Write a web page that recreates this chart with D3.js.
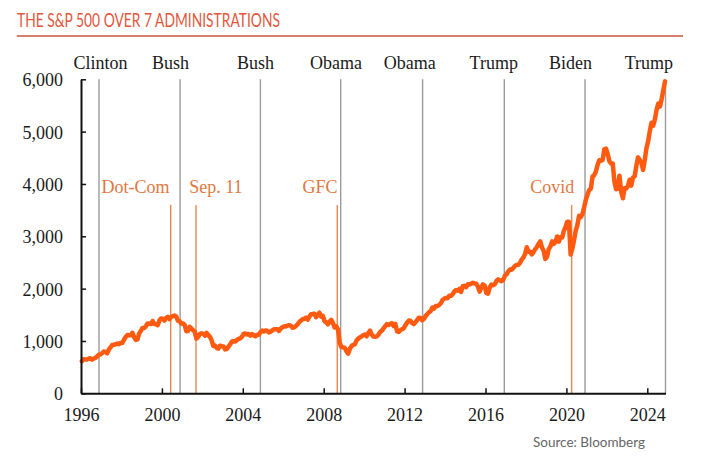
<!DOCTYPE html>
<html>
<head>
<meta charset="utf-8">
<script src="https://cdn.jsdelivr.net/npm/d3@7"></script>
<style>
  html, body { margin: 0; padding: 0; background: #fff; }
  svg { display: block; }
</style>
</head>
<body>
<svg id="chart" width="707" height="458"></svg>
<script>
// ---- DATA ----
const titleText = "THE S&P 500 OVER 7 ADMINISTRATIONS";
const sourceText = "Source: Bloomberg";
const startYear = 1996;
// S&P 500 monthly level, Jan 1996 ... Nov 2024 (one row per year)
const sp500 = [
  [614,650,647,647,661,669,644,663,675,701,736,743],
  [766,798,792,764,833,876,925,928,937,951,939,962],
  [963,1024,1077,1112,1108,1108,1157,1075,1021,1032,1144,1190],
  [1249,1247,1282,1335,1332,1323,1381,1327,1318,1300,1391,1429],
  [1426,1389,1442,1461,1418,1462,1473,1485,1468,1390,1378,1331],
  [1336,1306,1186,1190,1270,1239,1204,1179,1045,1077,1130,1145],
  [1140,1101,1154,1112,1079,1014,904,913,868,855,910,899],
  [896,838,847,890,936,988,993,990,1019,1039,1050,1081],
  [1133,1143,1124,1133,1102,1133,1106,1089,1118,1118,1169,1199],
  [1181,1200,1195,1164,1178,1202,1222,1224,1226,1192,1237,1262],
  [1279,1277,1294,1302,1290,1253,1260,1287,1318,1363,1389,1416],
  [1424,1445,1407,1464,1511,1514,1521,1455,1497,1540,1463,1479],
  [1379,1355,1317,1370,1403,1341,1257,1281,1217,969,883,878],
  [866,805,757,848,902,926,936,1010,1045,1068,1088,1110],
  [1124,1089,1152,1197,1125,1083,1080,1087,1122,1172,1199,1242],
  [1283,1321,1304,1332,1338,1287,1325,1185,1174,1207,1226,1243],
  [1301,1352,1389,1386,1341,1323,1360,1403,1443,1438,1395,1422],
  [1480,1512,1551,1571,1640,1619,1669,1670,1687,1720,1784,1808],
  [1822,1817,1864,1864,1890,1947,1973,1962,1993,1937,2045,2054],
  [2028,2082,2080,2095,2112,2099,2094,2040,1944,2025,2081,2054],
  [1919,1904,2022,2076,2066,2084,2149,2177,2158,2143,2165,2247],
  [2275,2330,2367,2359,2395,2434,2454,2456,2493,2557,2594,2664],
  [2790,2705,2703,2654,2701,2754,2794,2858,2902,2785,2723,2567],
  [2607,2755,2804,2904,2855,2890,2996,2898,2982,2978,3105,3177],
  [3278,3277,2652,2762,2920,3105,3208,3392,3366,3419,3549,3695],
  [3794,3883,3911,4141,4168,4238,4364,4454,4446,4461,4667,4675],
  [4574,4436,4391,4391,4040,3899,3912,4159,3851,3726,3917,3912],
  [3961,4080,3969,4121,4146,4345,4508,4457,4409,4269,4460,4685],
  [4816,5012,5171,5112,5235,5415,5538,5478,5621,5792,5960]
];
// administrations: name, date of the divider line, label centre
const adminNames = ["Clinton","Bush","Bush","Obama","Obama","Trump","Biden","Trump"];
const adminLineYears = [1996.89, 2000.90, 2004.87, 2008.84, 2012.89, 2016.93, 2020.92, 2024.90];
const adminLabelYears = [1996.96, 2000.43, 2004.63, 2008.61, 2012.25, 2016.41, 2020.20, 2024.08];
// events
const eventNames = ["Dot-Com","Sep. 11","GFC","Covid"];
const eventYears = [2000.435, 2001.686, 2008.67, 2020.26];
const eventLabelYears = [1998.69, 2002.67, 2007.82, 2019.30];
const eventTopValue = 3600;
const xTicks = [1996, 2000, 2004, 2008, 2012, 2016, 2020, 2024];
const yTicks = [0, 1000, 2000, 3000, 4000, 5000, 6000];
const xDomain = [1996, 2024.9];
const yDomain = [0, 6000];

// ---- CHART ----
const svg = d3.select("#chart");
const serif = "'Liberation Serif', 'Times New Roman', serif";
const sans = "Lato, 'Open Sans', sans-serif";

const x = d3.scaleLinear().domain(xDomain).range([81, 665.5]);
const y = d3.scaleLinear().domain(yDomain).range([393.3, 79.3]);

const series = [];
sp500.forEach((row, yi) => row.forEach((v, mi) => series.push({ t: startYear + yi + (mi + 0.5) / 12, v })));

// title
svg.append("text")
  .attr("x", 17).attr("y", 26.7)
  .attr("fill", "#E2573B")
  .attr("font-family", sans)
  .attr("font-weight", 400)
  .attr("font-size", 19)
  .attr("textLength", 263)
  .attr("lengthAdjust", "spacingAndGlyphs")
  .text(titleText);
svg.append("line")
  .attr("x1", 16.7).attr("x2", 683).attr("y1", 36).attr("y2", 36)
  .attr("stroke", "#C9563D").attr("stroke-width", 1.5);

// administration lines
svg.append("g").selectAll("line").data(adminLineYears).join("line")
  .attr("x1", d => x(d)).attr("x2", d => x(d))
  .attr("y1", y(6000)).attr("y2", y(0))
  .attr("stroke", "#9b9b9b").attr("stroke-width", 1.4);
svg.append("g").selectAll("text").data(adminNames).join("text")
  .attr("x", (d, i) => x(adminLabelYears[i])).attr("y", 69)
  .attr("text-anchor", "middle")
  .attr("font-family", serif).attr("font-size", 18)
  .attr("fill", "#1a1a1a")
  .text(d => d);

// event lines
svg.append("g").selectAll("line").data(eventYears).join("line")
  .attr("x1", d => x(d)).attr("x2", d => x(d))
  .attr("y1", y(eventTopValue)).attr("y2", y(0))
  .attr("stroke", "#EA8650").attr("stroke-width", 1.4);
svg.append("g").selectAll("text").data(eventNames).join("text")
  .attr("x", (d, i) => x(eventLabelYears[i])).attr("y", 193)
  .attr("text-anchor", "middle")
  .attr("font-family", serif).attr("font-size", 18)
  .attr("fill", "#E2783F")
  .text(d => d);

// data line
svg.append("path")
  .datum(series)
  .attr("fill", "none")
  .attr("stroke", "#FF5A0F")
  .attr("stroke-width", 4.5)
  .attr("stroke-linejoin", "round")
  .attr("stroke-linecap", "round")
  .attr("d", d3.line().x(d => x(d.t)).y(d => y(d.v)));

// axes
const yAxis = d3.axisLeft(y).tickValues(yTicks).tickFormat(d3.format(",")).tickSize(-5).tickSizeOuter(0).tickPadding(18);
const xAxis = d3.axisBottom(x).tickValues(xTicks).tickFormat(d3.format("d")).tickSize(-5).tickSizeOuter(0).tickPadding(15);

const gy = svg.append("g").attr("transform", "translate(81,0)").call(yAxis);
const gx = svg.append("g").attr("transform", "translate(0,393.3)").call(xAxis);
[gx, gy].forEach(g => {
  g.select(".domain").attr("stroke", "#111").attr("stroke-width", 2);
  g.selectAll(".tick line").attr("stroke", "#111").attr("stroke-width", 1.5);
  g.selectAll(".tick text").attr("font-family", serif).attr("font-size", 18).attr("fill", "#1a1a1a");
});
gy.selectAll(".tick text").attr("dy", "0.36em");

// source
svg.append("text")
  .attr("x", 533).attr("y", 446.5)
  .attr("font-family", sans).attr("font-weight", 400).attr("font-size", 14)
  .attr("fill", "#666")
  .attr("textLength", 112)
  .attr("lengthAdjust", "spacingAndGlyphs")
  .text(sourceText);
</script>
</body>
</html>
